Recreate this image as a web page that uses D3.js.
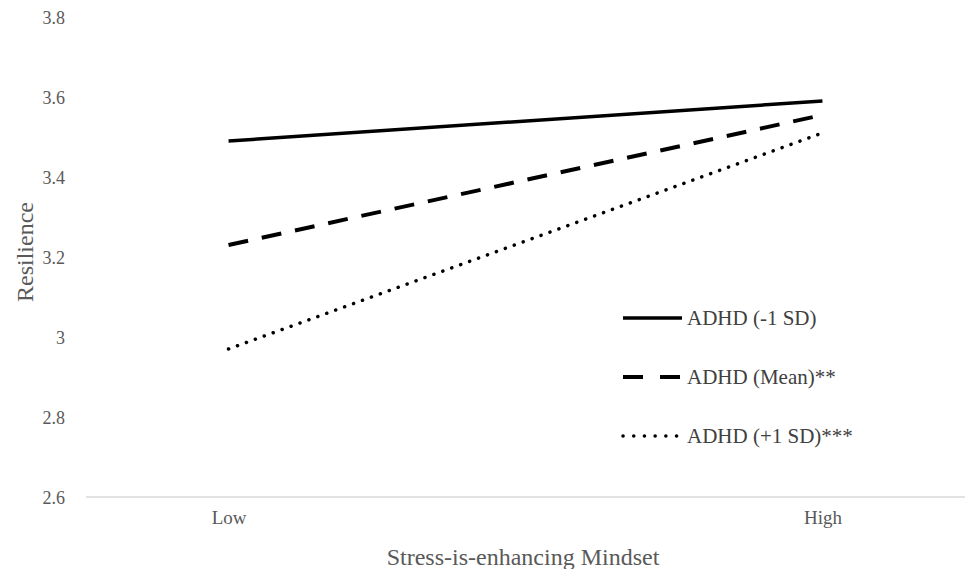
<html>
<head>
<style>
  body { margin: 0; background: #fff; }
  text { font-family: "Liberation Serif", "Times New Roman", serif; }
</style>
</head>
<body>
<div id="chart"></div>
<script src="https://cdn.jsdelivr.net/npm/d3@7"></script>
<script>
const categories = ['Low', 'High'];
const seriesNames = ['ADHD (-1 SD)', 'ADHD (Mean)**', 'ADHD (+1 SD)***'];
const lowSD = [3.49, 3.59];
const meanADHD = [3.23, 3.555];
const highSD = [2.97, 3.51];
const yTicks = [2.6, 2.8, 3, 3.2, 3.4, 3.6, 3.8];

const width = 969, height = 569;
const plotLeft = 86, plotRight = 965, plotTop = 17, plotBottom = 497;
const serif = '"Liberation Serif", "Times New Roman", serif';

const svg = d3.select('#chart').append('svg')
    .attr('width', width)
    .attr('height', height)
    .attr('font-family', serif);

const x = d3.scalePoint().domain(categories).range([plotLeft, plotRight]).padding(0.24);
const y = d3.scaleLinear().domain([2.6, 3.8]).range([plotBottom, plotTop]);

// y tick labels (no axis line in the original)
const yAxis = svg.append('g')
    .attr('transform', `translate(${plotLeft},0)`)
    .call(d3.axisLeft(y).tickValues(yTicks).tickSize(0).tickPadding(21)
        .tickFormat(d => String(+d.toFixed(1))));
yAxis.attr('font-family', serif).attr('font-size', 18);
yAxis.select('.domain').remove();
yAxis.selectAll('text').attr('fill', '#595959').attr('dy', '0.34em');

// x axis: baseline + category labels
const xAxis = svg.append('g')
    .attr('transform', `translate(0,${plotBottom})`)
    .call(d3.axisBottom(x).tickSize(0).tickPadding(14));
xAxis.attr('font-family', serif).attr('font-size', 19);
xAxis.select('.domain').attr('d', `M${plotLeft},0H${plotRight}`)
    .attr('stroke', '#d9d9d9').attr('stroke-width', 1.5);
xAxis.selectAll('text').attr('fill', '#595959');

// axis titles
svg.append('text')
    .attr('x', 523).attr('y', 565)
    .attr('text-anchor', 'middle')
    .attr('fill', '#595959').attr('font-size', 24)
    .text('Stress-is-enhancing Mindset');

svg.append('text')
    .attr('transform', 'translate(33,252) rotate(-90)')
    .attr('text-anchor', 'middle')
    .attr('fill', '#595959').attr('font-size', 24)
    .text('Resilience');

const series = [
    { name: seriesNames[0], values: lowSD, dash: null, legendDash: null, w: 3.5, cap: 'butt' },
    { name: seriesNames[1], values: meanADHD, dash: '20,14', legendDash: '20,17', w: 4, cap: 'butt' },
    { name: seriesNames[2], values: highSD, dash: '0.1,9.4', legendDash: '0.1,10.6', w: 3.5, cap: 'round' }
];

const line = d3.line()
    .x((d, i) => x(categories[i]))
    .y(d => y(d));

svg.selectAll('.series')
    .data(series)
    .enter()
    .append('path')
    .attr('class', 'series')
    .attr('d', d => line(d.values))
    .attr('fill', 'none')
    .attr('stroke', '#000')
    .attr('stroke-width', d => d.w)
    .attr('stroke-linecap', d => d.cap)
    .attr('stroke-dasharray', d => d.dash);

// legend
const legend = svg.selectAll('.legend')
    .data(series)
    .enter()
    .append('g')
    .attr('class', 'legend')
    .attr('transform', (d, i) => `translate(623,${318 + i * 59})`);

legend.append('line')
    .attr('x1', 0).attr('x2', 59)
    .attr('stroke', '#000')
    .attr('stroke-width', d => d.w)
    .attr('stroke-linecap', d => d.cap)
    .attr('stroke-dasharray', d => d.legendDash);

legend.append('text')
    .attr('x', 64).attr('y', 7)
    .attr('fill', '#404040').attr('font-size', 21)
    .text(d => d.name);
</script>
</body>
</html>
